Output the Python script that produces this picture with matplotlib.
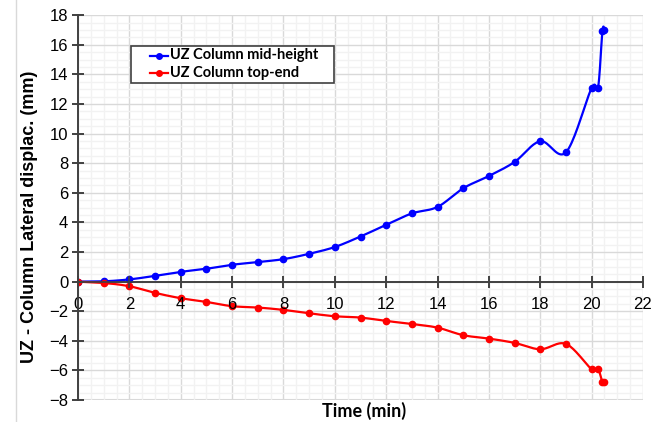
import numpy as np
import matplotlib.pyplot as plt
from matplotlib.ticker import MultipleLocator
from matplotlib.lines import Line2D
from matplotlib.patches import Rectangle

plt.rcParams['font.family'] = ['Liberation Sans', 'DejaVu Sans']

# time readings (min) and lateral displacements (mm)
time_min = [0, 1, 2, 3, 4, 5, 6, 7, 8, 9, 10, 11, 12, 13, 14, 15, 16, 17, 18, 19, 20, 20.25, 20.42, 20.5]
mid_height = [0, 0.02, 0.15, 0.39, 0.66, 0.87, 1.14, 1.32, 1.52, 1.88, 2.34, 3.05, 3.84, 4.61,
              5.05, 6.31, 7.14, 8.09, 9.49, 8.74, 13.09, 13.12, 16.94, 17.0]
top_end = [0, -0.09, -0.31, -0.76, -1.12, -1.37, -1.66, -1.75, -1.91, -2.14, -2.34, -2.43, -2.66, -2.86,
           -3.11, -3.62, -3.85, -4.14, -4.57, -4.21, -5.92, -5.9, -6.8, -6.8]

series_names = ["UZ Column mid-height", "UZ Column top-end"]
series_colors = ["#0000ff", "#ff0000"]


def smooth(xs, ys, n=20):
    # catmull-rom through the points, like a spreadsheet "smoothed line"
    p = np.column_stack([xs, ys]).astype(float)
    p = np.vstack([p[0], p, p[-1]])
    out = []
    for i in range(1, len(p) - 2):
        p0, p1, p2, p3 = p[i - 1], p[i], p[i + 1], p[i + 2]
        c1 = p1 + (p2 - p0) / 6
        c2 = p2 - (p3 - p1) / 6
        t = np.linspace(0, 1, n)[:, None]
        seg = (1 - t) ** 3 * p1 + 3 * (1 - t) ** 2 * t * c1 + 3 * (1 - t) * t ** 2 * c2 + t ** 3 * p2
        out.append(seg if i == 1 else seg[1:])
    out = np.vstack(out)
    return out[:, 0], out[:, 1]


def setup(a):
    a.set_xlim(0, 22)
    a.set_ylim(-8, 18)
    a.xaxis.set_major_locator(MultipleLocator(2))
    a.yaxis.set_major_locator(MultipleLocator(2))
    a.spines['bottom'].set_position(('data', 0))
    a.spines['top'].set_visible(False)
    a.spines['right'].set_visible(False)
    for s in ['bottom', 'left']:
        a.spines[s].set_color('#404040')
        a.spines[s].set_linewidth(1.2)
    a.tick_params(which='major', direction='inout', length=8, width=1.2, color='#404040',
                  labelsize=12, labelcolor='black')
    a.tick_params(axis='x', pad=7)
    a.tick_params(axis='y', pad=3)


W, H = 661, 422
rect = [78 / W, 1 - 400 / H, 565 / W, 384.7 / H]
fig = plt.figure(figsize=(W / 100, H / 100), dpi=100)
ax = fig.add_axes(rect)

for ys, col in zip([mid_height, top_end], series_colors):
    sx, sy = smooth(time_min, ys)
    ax.plot(sx, sy, color=col, lw=1.6, zorder=3)
    ax.plot(time_min, ys, 'o', color=col, ms=4.5, zorder=4)

setup(ax)
ax.xaxis.set_minor_locator(MultipleLocator(0.5))
ax.yaxis.set_minor_locator(MultipleLocator(0.5))
ax.tick_params(which='minor', length=0)
ax.tick_params(labelbottom=False, labelleft=False)
ax.grid(which='major', color='#d9d9d9', lw=1.0, zorder=0)
ax.grid(which='minor', color='#f2f2f2', lw=1.0, zorder=0)
ax.set_axisbelow(True)
# light frame line along the bottom of the plot area
ax.axhline(-8, color='#d9d9d9', lw=1.5, zorder=0)

# axis lines and tick labels sit on top of the series
ax_top = fig.add_axes(rect)
ax_top.patch.set_visible(False)
setup(ax_top)

fig.text(30 / W, 1 - 217 / H, "UZ - Column Lateral displac. (mm)", rotation=90,
         ha='center', va='center', fontsize=13, fontweight='bold')
fig.text(364 / W, 1 - 411 / H, "Time (min)", ha='center', va='center',
         fontsize=13, fontweight='bold', family='Lato')

# legend box, laid out in pixels
fig.add_artist(Rectangle((131 / W, 1 - 82.7 / H), 203 / W, 37 / H, transform=fig.transFigure,
                         facecolor='white', edgecolor='#404040', lw=1.2, zorder=5))
for k, (name, col) in enumerate(zip(series_names, series_colors)):
    yy = 1 - (55.5 + 17.5 * k) / H
    fig.add_artist(Line2D([150 / W, 168 / W], [yy, yy], color=col, lw=1.6, zorder=6))
    fig.add_artist(Line2D([159 / W], [yy], color=col, marker='o', ms=4, zorder=6))
    fig.text(170 / W, yy, name, ha='left', va='center', fontsize=10.5, fontweight='bold',
             family='Lato', zorder=6)

# left border of the chart area
fig.add_artist(Line2D([16 / W, 16 / W], [0, 1], color='#d9d9d9', lw=1.0))

fig.savefig('out.png', dpi=100)
